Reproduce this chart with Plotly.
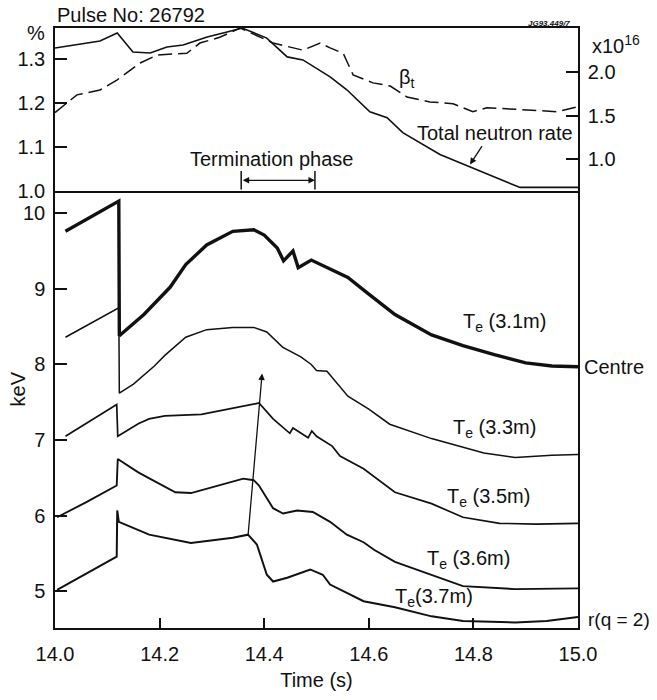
import plotly.graph_objects as go

# ---------------- data ----------------
# Upper panel: beta_t (%) and total neutron rate (x10^16 /s)
t_beta = [14.0, 14.042, 14.086, 14.119, 14.163, 14.195, 14.252, 14.277, 14.315, 14.354,
          14.417, 14.474, 14.507, 14.526, 14.551, 14.570, 14.608, 14.641, 14.673, 14.717,
          14.761, 14.799, 14.826, 14.908, 14.960, 15.0]
beta_t = [1.178, 1.218, 1.229, 1.252, 1.290, 1.308, 1.312, 1.335, 1.348, 1.369,
          1.335, 1.319, 1.335, 1.324, 1.312, 1.263, 1.245, 1.238, 1.213, 1.202,
          1.198, 1.180, 1.189, 1.184, 1.180, 1.191]

t_neut = [14.0, 14.054, 14.086, 14.119, 14.149, 14.182, 14.214, 14.245, 14.291, 14.329,
          14.358, 14.405, 14.444, 14.474, 14.526, 14.558, 14.602, 14.635, 14.665, 14.736,
          14.793, 14.889, 15.0]
neutron = [2.285, 2.331, 2.366, 2.458, 2.238, 2.227, 2.296, 2.319, 2.412, 2.470,
           2.516, 2.400, 2.181, 2.146, 1.949, 1.799, 1.544, 1.475, 1.301, 1.046,
           0.907, 0.664, 0.664]

# Lower panel: electron temperature (keV) at several radii
t_a = [14.02, 14.07, 14.122, 14.123, 14.17, 14.22, 14.25, 14.29, 14.34, 14.38, 14.40,
       14.425, 14.437, 14.455, 14.465, 14.49, 14.53, 14.56, 14.60, 14.65, 14.72, 14.78,
       14.84, 14.90, 14.95, 15.0]
te_a = [9.76, 9.96, 10.16, 8.38, 8.66, 9.02, 9.32, 9.58, 9.76, 9.78, 9.71,
        9.54, 9.37, 9.50, 9.28, 9.38, 9.25, 9.15, 8.93, 8.66, 8.39, 8.25,
        8.13, 8.02, 7.98, 7.97]

t_b = [14.02, 14.07, 14.122, 14.123, 14.15, 14.19, 14.21, 14.25, 14.29, 14.34, 14.38,
       14.405, 14.435, 14.47, 14.49, 14.50, 14.52, 14.56, 14.60, 14.64, 14.72, 14.82,
       14.88, 14.95, 15.0]
te_b = [8.36, 8.55, 8.75, 7.62, 7.74, 7.98, 8.12, 8.36, 8.46, 8.49, 8.49,
        8.43, 8.23, 8.10, 8.00, 7.92, 7.91, 7.58, 7.41, 7.21, 7.02, 6.83,
        6.77, 6.80, 6.81]

t_c = [14.02, 14.07, 14.118, 14.12, 14.16, 14.18, 14.21, 14.28, 14.34, 14.39, 14.417,
       14.449, 14.455, 14.484, 14.491, 14.50, 14.53, 14.545, 14.59, 14.65, 14.72, 14.78,
       14.85, 14.92, 15.0]
te_c = [7.05, 7.26, 7.47, 7.05, 7.22, 7.28, 7.32, 7.34, 7.42, 7.49, 7.28,
        7.09, 7.16, 7.03, 7.12, 7.05, 6.92, 6.79, 6.62, 6.31, 6.16, 5.98,
        5.90, 5.89, 5.90]

t_d = [14.004, 14.06, 14.118, 14.12, 14.16, 14.23, 14.26, 14.31, 14.36, 14.38, 14.39,
       14.417, 14.436, 14.463, 14.493, 14.526, 14.558, 14.59, 14.61, 14.65, 14.72, 14.78,
       14.88, 15.0]
te_d = [5.98, 6.18, 6.40, 6.75, 6.57, 6.31, 6.30, 6.40, 6.49, 6.47, 6.40,
        6.10, 6.03, 6.07, 6.05, 5.92, 5.75, 5.65, 5.55, 5.39, 5.22, 5.07,
        5.03, 5.04]

t_e = [14.004, 14.06, 14.118, 14.119, 14.122, 14.18, 14.26, 14.34, 14.369, 14.386,
       14.405, 14.417, 14.444, 14.488, 14.512, 14.526, 14.59, 14.65, 14.72, 14.78,
       14.88, 14.94, 15.0]
te_e = [5.02, 5.24, 5.46, 6.07, 5.92, 5.75, 5.64, 5.71, 5.75, 5.62,
        5.22, 5.13, 5.18, 5.29, 5.22, 5.09, 4.87, 4.79, 4.67, 4.61,
        4.59, 4.61, 4.66]

x_ticks = [14.0, 14.2, 14.4, 14.6, 14.8, 15.0]
x_ticktext = ["14.0", "14.2", "14.4", "14.6", "14.8", "15.0"]
kev_ticks = [5, 6, 7, 8, 9, 10]
pct_ticks = [1.0, 1.1, 1.2, 1.3]
pct_ticktext = ["1.0", "1.1", "1.2", "1.3"]
neut_ticks = [1.0, 1.5, 2.0]
neut_ticktext = ["1.0", "1.5", "2.0"]

term_start, term_end = 14.356, 14.497

# ---------------- figure ----------------
FONT = "Liberation Sans, Arial, Helvetica, sans-serif"
BLK = "#111111"
fig = go.Figure()

def line(x, y, w, xa="x", ya="y", dash=None):
    fig.add_trace(go.Scatter(x=x, y=y, mode="lines", xaxis=xa, yaxis=ya,
                             line=dict(color=BLK, width=w, dash=dash),
                             showlegend=False, hoverinfo="skip"))

line(t_beta, beta_t, 1.5, "x2", "y2", dash="14px,6px")
line(t_neut, neutron, 1.6, "x2", "y3")
line(t_a, te_a, 3.4)
line(t_b, te_b, 1.5)
line(t_c, te_c, 1.7)
line(t_d, te_d, 1.9)
line(t_e, te_e, 2.0)

split = 0.7277
ax_common = dict(showgrid=False, zeroline=False, showline=True, linecolor=BLK,
                 linewidth=1.5, tickcolor=BLK, tickwidth=1.5,
                 tickfont=dict(family=FONT, size=20, color=BLK))

fig.update_layout(
    width=657, height=700,
    margin=dict(l=55, r=79, t=28, b=66),
    paper_bgcolor="white", plot_bgcolor="white",
    font=dict(family=FONT, size=20, color=BLK),
    xaxis=dict(**ax_common, domain=[0, 1], range=[14.0, 15.0], anchor="y",
               tickvals=x_ticks, ticktext=x_ticktext, ticks="inside", ticklen=10,
               mirror=False, ticklabelstandoff=7,
               title=dict(text="Time (s)", font=dict(family=FONT, size=20, color=BLK),
                          standoff=9)),
    yaxis=dict(**ax_common, domain=[0, split], range=[4.516, 10.288], anchor="x",
               tickvals=kev_ticks, ticks="inside", ticklen=12, mirror=True,
               ticklabelstandoff=4),
    xaxis2=dict(**ax_common, domain=[0, 1], range=[14.0, 15.0], anchor="y2",
                matches="x", showticklabels=False, ticks="", mirror=True),
    yaxis2=dict(**ax_common, domain=[split, 1], range=[1.0, 1.369], anchor="x2",
                tickvals=pct_ticks, ticktext=pct_ticktext, ticks="inside", ticklen=12,
                ticklabelstandoff=4),
    yaxis3=dict(**ax_common, domain=[split, 1], range=[0.618, 2.517], anchor="x2",
                overlaying="y2", side="right", tickvals=neut_ticks,
                ticktext=neut_ticktext, ticks="inside", ticklen=12,
                ticklabelstandoff=4),
)

ann = []
def text(s, x, y, xref, yref, size=20, xanchor="center", yanchor="middle", **kw):
    ann.append(dict(text=s, x=x, y=y, xref=xref, yref=yref, showarrow=False,
                    xanchor=xanchor, yanchor=yanchor,
                    font=dict(family=FONT, size=size, color=BLK), **kw))

# upper-panel texts
text("Pulse No: 26792", 0.0, 1.0215, "paper", "paper", xanchor="left")
text("<b><i>JG93.449/7</i></b>", 0.9885, 1.0083, "paper", "paper", size=8, xanchor="right")
text("%", -0.0363, 0.9917, "paper", "paper")
text("x10<sup>16</sup>", 1.0229, 0.972, "paper", "paper", xanchor="left")
text("β<sub>t</sub>", 14.673, 1.256, "x2", "y2")
text("Termination phase", 14.414, 1.074, "x2", "y2")
text("Total neutron rate", 14.841, 1.30, "x2", "y3")

# lower-panel texts
text("T<sub>e</sub> (3.1m)", 14.860, 8.56, "x", "y")
text("Centre", 1.0076, 7.96, "paper", "y", xanchor="left")
text("T<sub>e</sub> (3.3m)", 14.841, 7.15, "x", "y")
text("T<sub>e</sub> (3.5m)", 14.828, 6.24, "x", "y")
text("T<sub>e</sub> (3.6m)", 14.790, 5.42, "x", "y")
text("T<sub>e</sub>(3.7m)", 14.725, 4.92, "x", "y")
text("r(q = 2)", 1.0145, 4.63, "paper", "y", size=19, xanchor="left")
text("keV", -0.0707, 0.3977, "paper", "paper", textangle=-90)

# arrows
ann.append(dict(x=term_end, y=1.025, ax=term_start, ay=1.025, xref="x2", yref="y2",
                axref="x2", ayref="y2", showarrow=True, arrowside="end+start",
                arrowhead=2, arrowsize=1, arrowwidth=1.3, arrowcolor=BLK, text=""))
ann.append(dict(x=14.7935, y=0.93, ax=13, ay=-20, xref="x2", yref="y3",
                showarrow=True, arrowhead=2, arrowsize=1, arrowwidth=1.3,
                arrowcolor=BLK, text=""))
ann.append(dict(x=14.396, y=7.88, ax=14.369, ay=5.73, xref="x", yref="y",
                axref="x", ayref="y", showarrow=True, arrowhead=2, arrowsize=1,
                arrowwidth=1.3, arrowcolor=BLK, text=""))
fig.update_layout(annotations=ann)

# end caps on the termination-phase bar
for xc in (term_start, term_end):
    fig.add_shape(type="line", x0=xc, x1=xc, y0=1.004, y1=1.046, xref="x2", yref="y2",
                  line=dict(color=BLK, width=1.5))

fig.write_html("out.html")
